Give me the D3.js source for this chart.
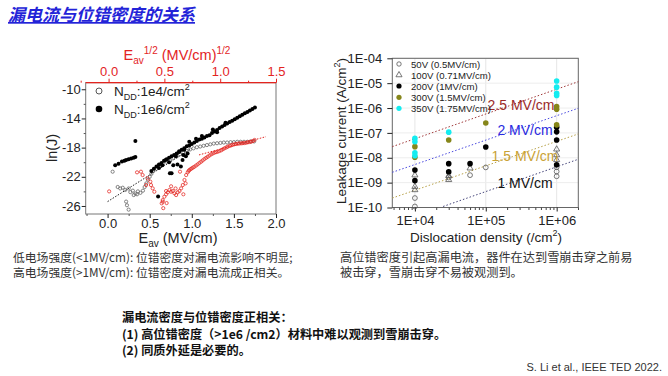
<!DOCTYPE html>
<html>
<head>
<meta charset="utf-8">
<script src="https://cdn.jsdelivr.net/npm/d3@7"></script>
<style>
body { margin: 0; background: #fff; }
text { font-family: "Liberation Sans", Arial, sans-serif; }
.cjk { font-family: "Noto Sans CJK SC", sans-serif; }
</style>
</head>
<body>
<svg id="chart" width="668" height="376"></svg>
<script>
// ---- left chart: ln(J) vs E_av ----
// NDD 1e6 (filled black), [E, lnJ]
const nd6Band = [
	[0.52, -21.2], [0.55, -20.9], [0.58, -20.6], [0.61, -20.3], [0.64, -20.1], [0.67, -19.8],
	[0.70, -19.6], [0.73, -19.4], [0.76, -19.2], [0.79, -19.0], [0.82, -18.8], [0.85, -18.5],
	[0.88, -18.3], [0.91, -18.1], [0.94, -17.8], [0.97, -17.7], [1.00, -17.5], [1.03, -17.3],
	[1.06, -17.1], [1.09, -16.9], [1.12, -16.8], [1.15, -16.6], [1.18, -16.4], [1.21, -16.3],
	[1.24, -16.0], [1.27, -15.8], [1.30, -15.6], [1.33, -15.3], [1.36, -15.1], [1.39, -14.9],
	[1.42, -14.7], [1.45, -14.5], [1.48, -14.3], [1.51, -14.1], [1.54, -13.9], [1.57, -13.7],
	[1.60, -13.5], [1.63, -13.3], [1.66, -13.1], [1.69, -12.9], [1.72, -12.7], [1.75, -12.5]
];
const nd6Scatter = [
	[0.09, -20.4], [0.13, -20.2], [0.17, -19.9], [0.20, -19.8], [0.22, -19.7], [0.25, -19.6],
	[0.28, -19.5], [0.31, -19.4], [0.33, -19.3], [0.33, -17.1], [0.60, -24.7],
	[0.61, -20.8], [0.65, -20.4], [0.69, -19.7], [0.73, -20.0], [0.74, -21.5], [0.76, -21.5],
	[0.78, -20.4], [0.81, -19.2], [0.83, -20.3], [0.85, -18.6], [0.87, -20.6], [0.89, -19.7],
	[0.90, -19.0], [0.91, -18.3], [0.93, -19.2], [0.95, -18.8], [0.97, -17.2], [1.05, -16.8],
	[1.12, -16.4], [1.25, -15.5], [1.30, -15.9], [1.40, -14.6]
];
// NDD 1e4 (open gray), [E, lnJ]
const nd4Points = [
	[0.54, -21.2], [0.58, -20.9], [0.62, -20.6], [0.66, -20.2], [0.70, -19.9], [0.74, -19.7],
	[0.78, -19.4], [0.82, -19.2], [0.86, -18.9], [0.90, -18.7], [0.94, -18.45], [0.98, -18.25],
	[1.02, -18.1], [1.06, -17.95], [1.10, -17.85], [1.14, -17.75], [1.18, -17.65], [1.22, -17.55],
	[1.26, -17.45], [1.30, -17.4], [1.34, -17.35], [1.38, -17.3], [1.42, -17.3], [1.46, -17.25],
	[1.50, -17.25], [1.54, -17.2], [1.58, -17.2], [1.62, -17.2], [1.66, -17.2], [1.70, -17.15],
	[1.74, -17.15],
	[0.06, -21.3], [0.12, -23.4], [0.15, -23.6], [0.18, -23.5], [0.21, -23.8], [0.25, -23.6],
	[0.27, -24.1], [0.30, -23.9], [0.33, -24.3], [0.36, -24.0], [0.39, -24.2], [0.42, -23.9],
	[0.44, -23.4], [0.46, -22.9], [0.48, -22.4], [0.50, -22.0], [0.52, -21.6],
	[0.22, -25.4], [0.23, -25.9], [0.25, -26.5], [0.31, -24.5], [0.35, -24.4]
];
// red open circles vs sqrt(E_av), [sqrtE, lnJ]
const redPoints = [
	[0.709, -21.39], [0.717, -21.2], [0.724, -21.07], [0.735, -20.95], [0.745, -20.84],
	[0.757, -20.73], [0.769, -20.62], [0.784, -20.45], [0.799, -20.29], [0.814, -20.1],
	[0.829, -19.93], [0.844, -19.75], [0.859, -19.56], [0.874, -19.4], [0.889, -19.25],
	[0.904, -19.08], [0.919, -18.92], [0.934, -18.8], [0.949, -18.70], [0.963, -18.62],
	[0.978, -18.56], [0.993, -18.47], [1.009, -18.37], [1.024, -18.22], [1.039, -18.09],
	[1.054, -17.98], [1.068, -17.87], [1.084, -17.77], [1.099, -17.68], [1.113, -17.6],
	[1.128, -17.54], [1.143, -17.5], [1.158, -17.46], [1.173, -17.43], [1.188, -17.41],
	[1.203, -17.39], [1.218, -17.37], [1.233, -17.32], [1.248, -17.27], [1.263, -17.23],
	[1.278, -17.19], [1.293, -17.1], [1.308, -16.95],
	[0.695, -21.76], [0.680, -22.44], [0.665, -23.13], [0.650, -23.58], [0.635, -23.95],
	[0.620, -24.13], [0.590, -24.27], [0.560, -24.05], [0.530, -24.13], [0.515, -24.41],
	[0.500, -24.73], [0.485, -25.19], [0.476, -25.64], [0.640, -21.3], [0.605, -24.50],
	[0.575, -23.95], [0.545, -23.81], [0.515, -23.95], [0.600, -23.6], [0.560, -23.3],
	[0.690, -22.9], [0.670, -24.4], [0.520, -25.6],
	[0.255, -21.39], [0.305, -21.76], [0.350, -22.21], [0.380, -23.13], [0.395, -23.58],
	[0.410, -24.05], [0.374, -22.67], [0.336, -23.13], [0.290, -21.3], [0.005, -24.0],
	[0.490, -26.3], [0.485, -25.42]
];
const blackFit = [[0.0, -25.4], [1.0, -18.1]];
const redFit = [[0.81, -19.0], [1.41, -16.5]];
const leftYTicks = [-10, -14, -18, -22, -26];
const bottomTicks = [0.0, 0.5, 1.0, 1.5, 2.0];
const topTicks = [0.0, 0.5, 1.0, 1.5];

// ---- right chart: leakage current vs dislocation density ----
const v50 = [[1e4, 2.4e-10], [1e4, 1.1e-10], [3e4, 1.6e-9], [6e4, 2.0e-9], [1e5, 4.1e-9],
	[1e6, 4.2e-9], [1e6, 2.8e-9], [1e6, 1.8e-9]];
const v100 = [[1e4, 2.0e-9], [1e4, 6.9e-10], [1e4, 5.1e-10], [3e4, 1.9e-9], [3e4, 1.3e-9],
	[6e4, 3.8e-9], [1e6, 2.2e-8], [1e6, 1.3e-8], [1e6, 8.3e-9]];
const v200 = [[1e4, 3.2e-9], [1e4, 1.2e-9], [3e4, 5.8e-9], [3e4, 2.7e-9], [6e4, 5.8e-9],
	[1e5, 2.7e-8], [1e6, 1.7e-7], [1e6, 1.1e-7], [1e6, 5.2e-8], [1e6, 5.2e-9]];
const v300 = [[1e4, 2.8e-8], [1e4, 1.05e-8], [3e4, 5.2e-8], [1e5, 2.5e-7],
	[1e6, 1.15e-6], [1e6, 8.9e-7], [1e6, 2.1e-7]];
const v350 = [[1e4, 6.0e-8], [1e4, 4.4e-8], [1e4, 1.6e-8], [1e4, 1.2e-8], [3e4, 1.07e-7],
	[1e6, 1.23e-5], [1e6, 6.9e-6], [1e6, 3.9e-6], [1e6, 3.2e-6]];
const fit25 = [[4.8e3, 2.8e-8], [2.02e6, 1.15e-5]];
const fit20 = [[4.8e3, 2.6e-9], [2.02e6, 9.8e-7]];
const fit15 = [[4.8e3, 2.4e-10], [2.02e6, 9.1e-8]];
const fit10 = [[2.5e4, 1.1e-10], [2.02e6, 8.7e-9]];
const legendLabels = ['50V (0.5MV/cm)', '100V (0.71MV/cm)', '200V (1MV/cm)', '300V (1.5MV/cm)', '350V (1.75MV/cm)'];
const rightYTicks = [1e-10, 1e-9, 1e-8, 1e-7, 1e-6, 1e-5, 1e-4];
const rightXTicks = [1e4, 1e5, 1e6];

const svg = d3.select('#chart');
svg.append('rect').attr('width', 668).attr('height', 376).attr('fill', '#fff');

// text with sub/superscripts
function richText(sel, parts, small) {
	let off = 0;
	parts.forEach(([t, kind]) => {
		const target = kind === 'sub' ? 4 : kind === 'sup' ? -6 : 0;
		const ts = sel.append('tspan').attr('dy', target - off).text(t);
		if(kind !== 'n') ts.attr('font-size', small);
		off = target;
	});
	return sel;
}

// title
svg.append('text').attr('class', 'cjk')
	.attr('x', 8).attr('y', 21)
	.attr('font-size', 17).attr('font-style', 'italic').attr('font-weight', 'bold')
	.attr('fill', '#2323d8').attr('text-decoration', 'underline')
	.text('漏电流与位错密度的关系');

// ================= left chart =================
const L = {l: 85.7, r: 276, t: 82.7, b: 214};
const xB = d3.scaleLinear([-0.26, 2.0], [L.l, L.r]);
const xT = d3.scaleLinear([-0.205, 1.5], [L.l, L.r]);
const yL = d3.scaleLinear([-27.1, -9.1], [L.b, L.t]);
const red = '#e3241f';

const left = svg.append('g');
left.append('rect').attr('x', L.l).attr('y', L.t).attr('width', L.r - L.l).attr('height', L.b - L.t)
	.attr('fill', 'none').attr('stroke', '#777').attr('stroke-width', 1);

const styleAxis = (g, color, size) => {
	g.select('.domain').remove();
	g.selectAll('line').attr('stroke', color);
	g.selectAll('text').attr('fill', color).attr('font-size', size)
		.attr('font-family', '"Liberation Sans", Arial, sans-serif');
};

left.append('g').attr('transform', `translate(${L.l},0)`)
	.call(d3.axisLeft(yL).tickValues(leftYTicks).tickSize(4).tickPadding(1).tickFormat(d => d))
	.call(g => styleAxis(g, '#222', 13));
left.append('g').attr('transform', `translate(${L.l},0)`)
	.call(d3.axisLeft(yL).tickValues([-12, -16, -20, -24]).tickSize(2).tickFormat(''))
	.call(g => styleAxis(g, '#555', 13));
left.append('g').attr('transform', `translate(0,${L.b})`)
	.call(d3.axisBottom(xB).tickValues(bottomTicks).tickSize(4).tickPadding(1).tickFormat(d3.format('.1f')))
	.call(g => styleAxis(g, '#222', 13));
left.append('g').attr('transform', `translate(0,${L.b})`)
	.call(d3.axisBottom(xB).tickValues([-0.25, 0.25, 0.75, 1.25, 1.75]).tickSize(2).tickFormat(''))
	.call(g => styleAxis(g, '#555', 13));
left.append('g').attr('transform', `translate(0,${L.t})`)
	.call(d3.axisTop(xT).tickValues(topTicks).tickSize(4).tickPadding(3).tickFormat(d3.format('.1f')))
	.call(g => styleAxis(g, red, 13));
left.append('g').attr('transform', `translate(0,${L.t})`)
	.call(d3.axisTop(xT).tickValues([-0.25, 0.25, 0.75, 1.25]).tickSize(2).tickFormat(''))
	.call(g => styleAxis(g, red, 13));
left.append('line').attr('x1', L.l).attr('x2', L.r).attr('y1', L.t).attr('y2', L.t)
	.attr('stroke', red).attr('stroke-width', 1.2);

// axis titles
richText(left.append('text').attr('x', 177).attr('y', 60).attr('text-anchor', 'middle')
	.attr('font-size', 14.5).attr('fill', red),
	[['E', 'n'], ['av', 'sub'], ['1/2', 'sup'], [' (MV/cm)', 'n'], ['1/2', 'sup']], 10);
richText(left.append('text').attr('x', 178).attr('y', 243).attr('text-anchor', 'middle')
	.attr('font-size', 14.5).attr('fill', '#222'),
	[['E', 'n'], ['av', 'sub'], [' (MV/cm)', 'n']], 10);
left.append('text').attr('transform', 'translate(57,148) rotate(-90)')
	.attr('text-anchor', 'middle').attr('font-size', 14.5).attr('fill', '#222').text('ln(J)');

// fits
const lineB = d3.line().x(d => xB(d[0])).y(d => yL(d[1]));
const lineT = d3.line().x(d => xT(d[0])).y(d => yL(d[1]));
left.append('path').attr('d', lineB(blackFit)).attr('fill', 'none').attr('stroke', '#222')
	.attr('stroke-width', 1).attr('stroke-dasharray', '1.5,1.5');
left.append('path').attr('d', lineT(redFit)).attr('fill', 'none').attr('stroke', red)
	.attr('stroke-width', 1).attr('stroke-dasharray', '1.5,1.5');

// points
left.append('g').selectAll('circle').data(nd4Points).join('circle')
	.attr('cx', d => xB(d[0])).attr('cy', d => yL(d[1])).attr('r', 1.6)
	.attr('fill', 'none').attr('stroke', '#666').attr('stroke-width', 0.8);
left.append('g').selectAll('circle').data(redPoints).join('circle')
	.attr('cx', d => xT(d[0])).attr('cy', d => yL(d[1])).attr('r', 1.6)
	.attr('fill', 'none').attr('stroke', red).attr('stroke-width', 0.75);
left.append('g').selectAll('circle').data(nd6Band.concat(nd6Scatter)).join('circle')
	.attr('cx', d => xB(d[0])).attr('cy', d => yL(d[1])).attr('r', 2.0)
	.attr('fill', '#000');

// legend
left.append('circle').attr('cx', 99).attr('cy', 91).attr('r', 3)
	.attr('fill', 'none').attr('stroke', '#555').attr('stroke-width', 1);
left.append('circle').attr('cx', 99).attr('cy', 109).attr('r', 3.3).attr('fill', '#000');
richText(left.append('text').attr('x', 114).attr('y', 96).attr('font-size', 13.5).attr('fill', '#222'),
	[['N', 'n'], ['DD', 'sub'], [':1e4/cm', 'n'], ['2', 'sup']], 9);
richText(left.append('text').attr('x', 114).attr('y', 114).attr('font-size', 13.5).attr('fill', '#222'),
	[['N', 'n'], ['DD', 'sub'], [':1e6/cm', 'n'], ['2', 'sup']], 9);

// ================= right chart =================
const R = {l: 392.3, r: 578.3, t: 58.3, b: 207.5};
const xR = d3.scaleLog([4.8e3, 2.02e6], [R.l, R.r]);
const yR = d3.scaleLog([1e-10, 1e-4], [R.b, R.t]);
const right = svg.append('g');

// faint grid
right.append('g').selectAll('line').data(rightXTicks).join('line')
	.attr('x1', d => xR(d)).attr('x2', d => xR(d)).attr('y1', R.t).attr('y2', R.b)
	.attr('stroke', '#e6e6e6').attr('stroke-width', 1);
right.append('g').selectAll('line').data(rightYTicks).join('line')
	.attr('x1', R.l).attr('x2', R.r).attr('y1', d => yR(d)).attr('y2', d => yR(d))
	.attr('stroke', '#ededed').attr('stroke-width', 1);

right.append('rect').attr('x', R.l).attr('y', R.t).attr('width', R.r - R.l).attr('height', R.b - R.t)
	.attr('fill', 'none').attr('stroke', '#666').attr('stroke-width', 1);

const expFmt = d => {
	const e = Math.round(Math.log10(d));
	return '1E' + (e < 0 ? '-' : '+') + String(Math.abs(e)).padStart(2, '0');
};
right.append('g').attr('transform', `translate(${R.l},0)`)
	.call(d3.axisLeft(yR).tickValues(rightYTicks).tickSize(5).tickPadding(5).tickFormat(expFmt))
	.call(g => styleAxis(g, '#222', 13));
right.append('g').attr('transform', `translate(0,${R.b})`)
	.call(d3.axisBottom(xR).tickValues(rightXTicks).tickSize(4).tickPadding(4).tickFormat(expFmt))
	.call(g => styleAxis(g, '#222', 13));
const minorX = [];
[1e3, 1e4, 1e5, 1e6].forEach(dec => d3.range(2, 10).forEach(k => {
	const v = dec * k;
	if(v > 4.8e3 && v < 2.02e6) minorX.push(v);
}));
right.append('g').attr('transform', `translate(0,${R.b})`)
	.call(d3.axisBottom(xR).tickValues(minorX).tickSize(2.5).tickFormat(''))
	.call(g => styleAxis(g, '#444', 13));

richText(right.append('text').attr('transform', 'translate(346,131) rotate(-90)')
	.attr('text-anchor', 'middle').attr('font-size', 13.5).attr('fill', '#222'),
	[['Leakage current (A/cm', 'n'], ['2', 'sup'], [')', 'n']], 9);
richText(right.append('text').attr('x', 486).attr('y', 242).attr('text-anchor', 'middle')
	.attr('font-size', 13.5).attr('fill', '#222'),
	[['Dislocation density (/cm', 'n'], ['2', 'sup'], [')', 'n']], 9);

// fit lines
const lineR = d3.line().x(d => xR(d[0])).y(d => yR(d[1]));
const fits = [
	{d: fit25, c: '#a0393a', label: '2.5 MV/cm', lc: '#9b2a2a', x: 521, y: 110},
	{d: fit20, c: '#4a4ae0', label: '2 MV/cm', lc: '#2a2ae0', x: 525, y: 135},
	{d: fit15, c: '#b8a24a', label: '1.5 MV/cm', lc: '#c9a235', x: 525, y: 161},
	{d: fit10, c: '#44447a', label: '1 MV/cm', lc: '#111', x: 525, y: 188}
];
fits.forEach(f => {
	right.append('path').attr('d', lineR(f.d)).attr('fill', 'none').attr('stroke', f.c)
		.attr('stroke-width', 1).attr('stroke-dasharray', '1.5,2');
});

// points
const triangle = d3.symbol().type(d3.symbolTriangle).size(16);
right.append('g').selectAll('path').data(v100).join('path')
	.attr('d', triangle).attr('transform', d => `translate(${xR(d[0])},${yR(d[1])})`)
	.attr('fill', 'none').attr('stroke', '#555').attr('stroke-width', 0.8);
right.append('g').selectAll('circle').data(v50).join('circle')
	.attr('cx', d => xR(d[0])).attr('cy', d => yR(d[1])).attr('r', 2.4)
	.attr('fill', 'none').attr('stroke', '#555').attr('stroke-width', 0.8);
const filled = [{d: v200, c: '#000'}, {d: v300, c: '#86861a'}, {d: v350, c: '#14ecf0'}];
filled.forEach(s => {
	right.append('g').selectAll('circle').data(s.d).join('circle')
		.attr('cx', d => xR(d[0])).attr('cy', d => yR(d[1])).attr('r', 2.8).attr('fill', s.c);
});

// fit labels (on top)
fits.forEach(f => {
	right.append('text').attr('x', f.x).attr('y', f.y).attr('text-anchor', 'middle')
		.attr('font-size', 14).attr('fill', f.lc).text(f.label);
});

// legend
const legendY = [64, 75, 86, 97.3, 108.3];
const lg = right.append('g');
lg.append('circle').attr('cx', 399).attr('cy', legendY[0]).attr('r', 2.2)
	.attr('fill', 'none').attr('stroke', '#555').attr('stroke-width', 0.8);
lg.append('path').attr('d', triangle).attr('transform', `translate(399,${legendY[1]})`)
	.attr('fill', 'none').attr('stroke', '#555').attr('stroke-width', 0.8);
filled.forEach((s, i) => {
	lg.append('circle').attr('cx', 399).attr('cy', legendY[i + 2]).attr('r', 2.6).attr('fill', s.c);
});
lg.selectAll('text').data(legendLabels).join('text')
	.attr('x', 411).attr('y', (d, i) => legendY[i] + 3.5)
	.attr('font-size', 9.6).attr('fill', '#222').text(d => d);

// ================= notes =================
const notes = svg.append('g');
const noteText = (x, y, t, size, weight) => notes.append('text').attr('class', 'cjk')
	.attr('x', x).attr('y', y).attr('font-size', size).attr('font-weight', weight || 'normal')
	.attr('fill', '#333').text(t);
noteText(13, 262, '低电场强度(<1MV/cm): 位错密度对漏电流影响不明显;', 11.8);
noteText(13, 277, '高电场强度(>1MV/cm): 位错密度对漏电流成正相关。', 11.8);
noteText(340, 262, '高位错密度引起高漏电流，器件在达到雪崩击穿之前易', 12.2);
noteText(340, 277, '被击穿，雪崩击穿不易被观测到。', 12.2);
noteText(122, 322, '漏电流密度与位错密度正相关：', 12.2, 'bold').attr('fill', '#111');
noteText(122, 339, '(1) 高位错密度（>1e6 /cm2）材料中难以观测到雪崩击穿。', 12.2, 'bold').attr('fill', '#111');
noteText(122, 355, '(2) 同质外延是必要的。', 12.2, 'bold').attr('fill', '#111');
svg.append('text').attr('x', 662).attr('y', 371).attr('text-anchor', 'end')
	.attr('font-size', 11).attr('fill', '#333').text('S. Li et al., IEEE TED 2022.');
</script>
</body>
</html>
